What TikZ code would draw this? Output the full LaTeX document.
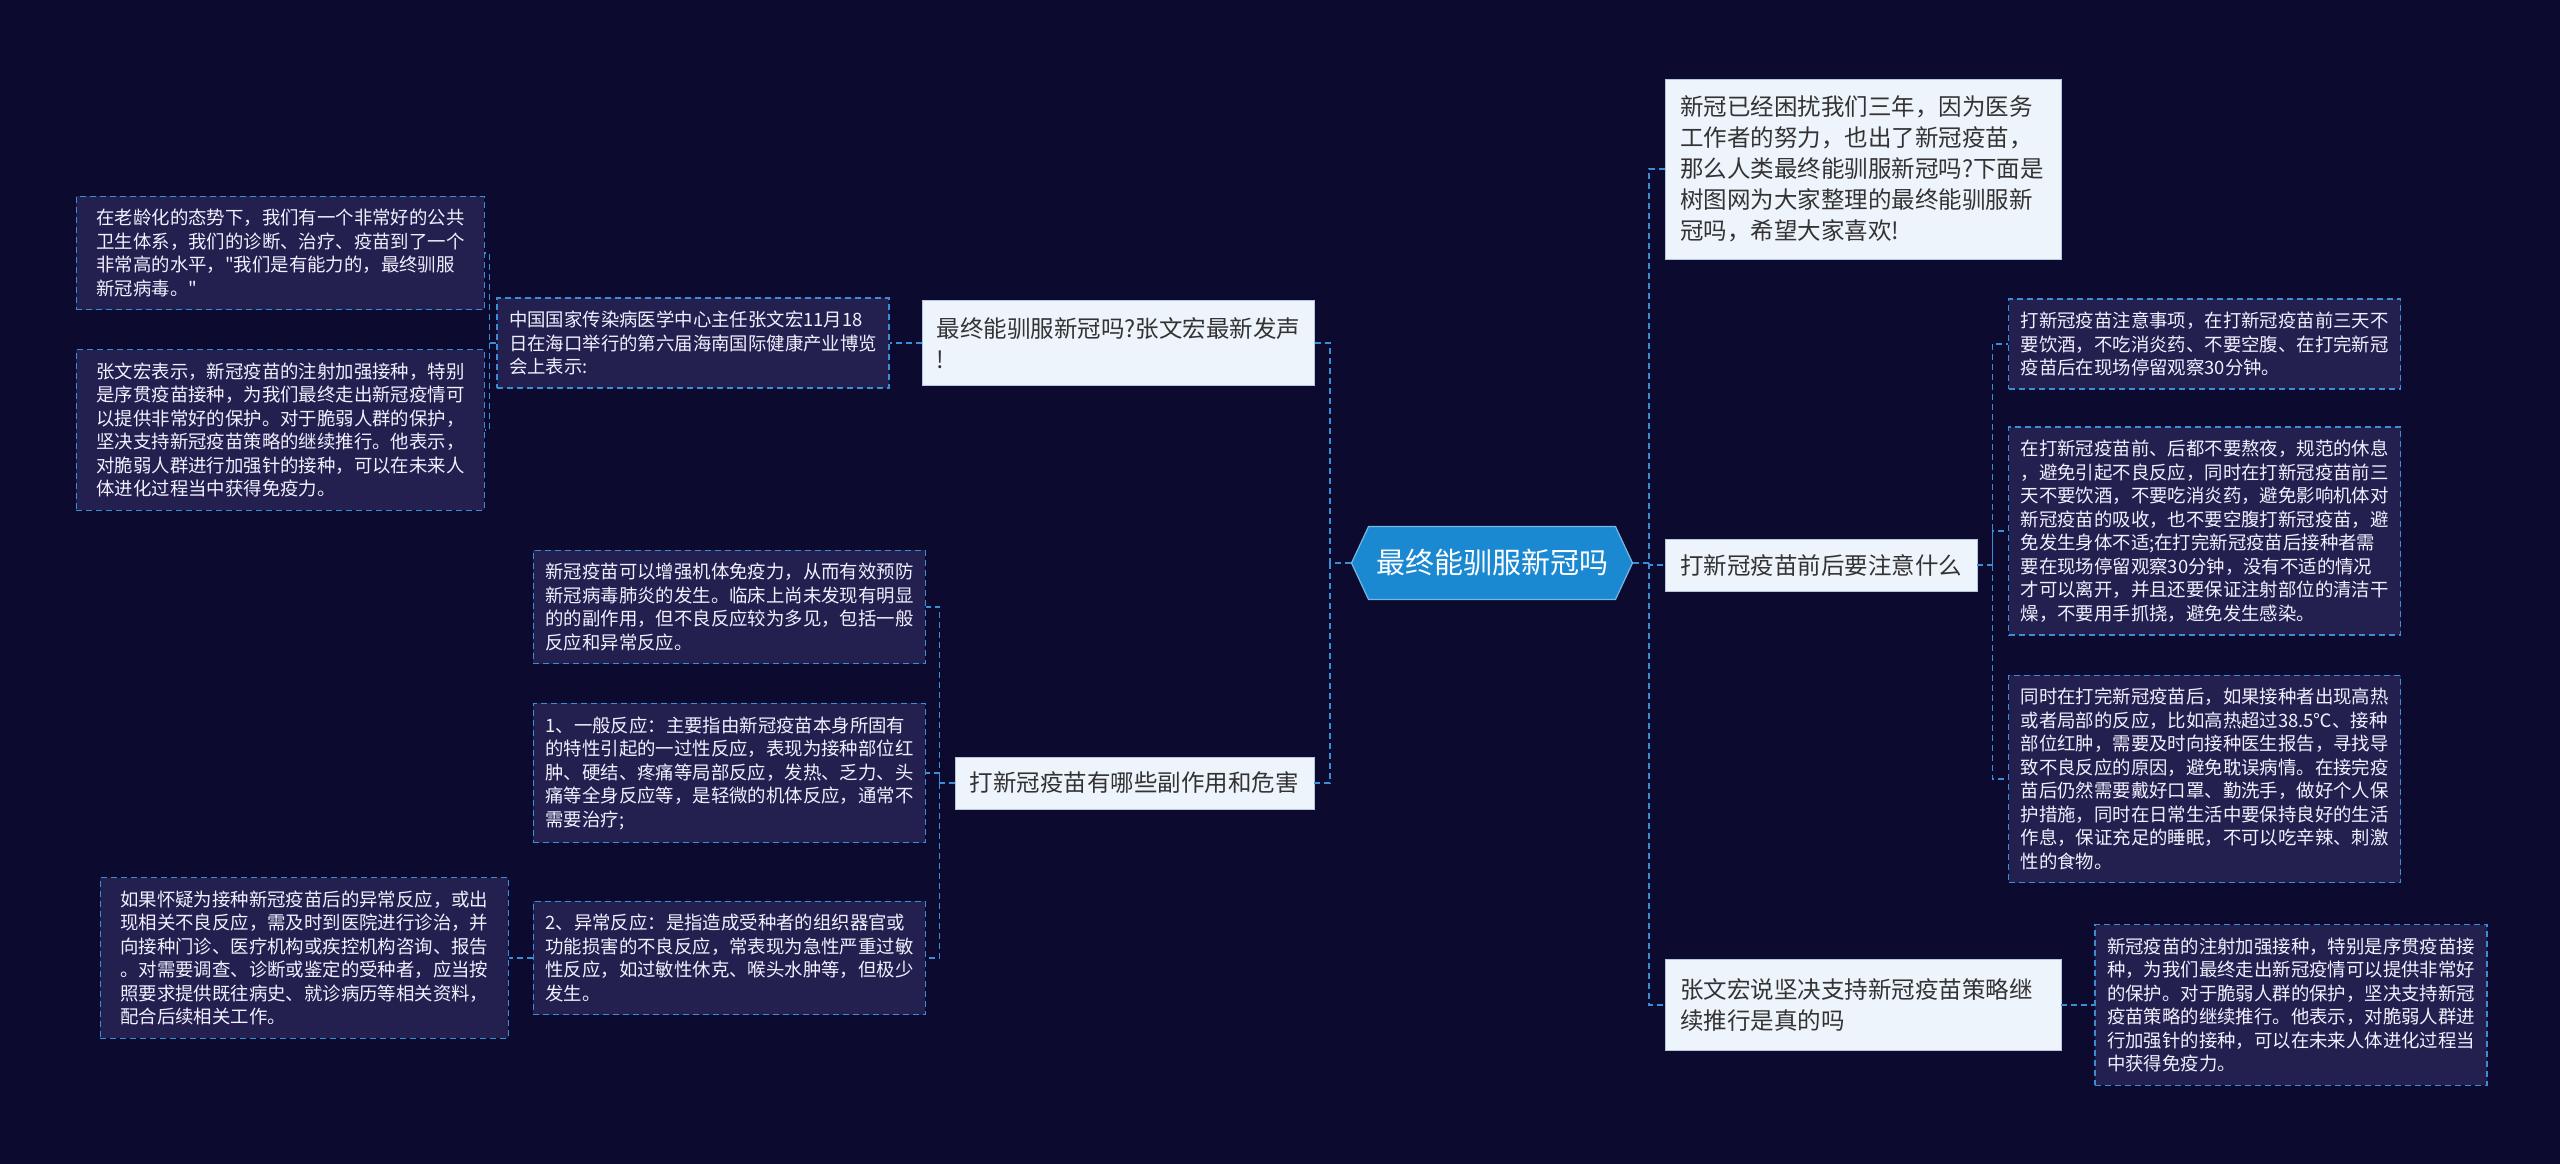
\documentclass[tikz,border=0pt]{standalone}
\usepackage{fontspec}
\setmainfont{Noto Sans CJK SC}[Ligatures=TeXOff]
\usepackage{tikz}
\usetikzlibrary{positioning,shapes.symbols}
\definecolor{canvas}{HTML}{0C0A2E}
\definecolor{leaffill}{HTML}{231F4F}
\definecolor{leafline}{HTML}{3A8ED6}
\definecolor{topicfill}{HTML}{EEF4FC}
\definecolor{topicline}{HTML}{B5C7DC}
\definecolor{rootfill}{HTML}{1B88D2}
\definecolor{inkdark}{HTML}{333333}
\tikzset{
  root/.style={signal,signal to=east and west,signal pointer angle=130,fill=rootfill,
    draw=rootfill!60!white,line width=1.2pt,text=white,minimum width=281pt,
    minimum height=73pt,font=\fontsize{29}{34}\selectfont},
  topic/.style={draw=topicline,fill=topicfill,text=inkdark,align=left,
    inner xsep=15pt,inner ysep=17pt,font=\fontsize{23.5}{31}\selectfont},
  leaf/.style={draw=leafline,dash pattern=on 6pt off 4pt,line width=1.2pt,fill=leaffill,
    text=white!94!blue,align=left,text width=368pt,inner xsep=12pt,inner ysep=13pt,
    font=\fontsize{18.4}{23.5}\selectfont},
  link/.style={draw=leafline,dash pattern=on 6pt off 4pt,line width=1.4pt}
}
\begin{document}
\begin{tikzpicture}[x=1pt,y=-1pt]
  \useasboundingbox (0,0) rectangle (2560,1164);
  \fill[canvas] (0,0) rectangle (2560,1164);

  \node[root] (root) at (1492,563) {最终能驯服新冠吗};

  \node[topic,text width=366pt,anchor=west] (intro) at (1665,169) {新冠已经困扰我们三年，因为医务\\工作者的努力，也出了新冠疫苗，\\那么人类最终能驯服新冠吗?下面是\\树图网为大家整理的最终能驯服新\\冠吗，希望大家喜欢!};
  \node[topic,inner ysep=15pt,anchor=west] (care) at (1665,565) {打新冠疫苗前后要注意什么};
  \node[topic,text width=366pt,inner ysep=19pt,anchor=west] (zwh) at (1665,1005) {张文宏说坚决支持新冠疫苗策略继\\续推行是真的吗};
  \node[leaf,anchor=west] (r1) at (2008,344) {打新冠疫苗注意事项，在打新冠疫苗前三天不\\要饮酒，不吃消炎药、不要空腹、在打完新冠\\疫苗后在现场停留观察30分钟。};
  \node[leaf,anchor=west] (r2) at (2008,531) {在打新冠疫苗前、后都不要熬夜，规范的休息\\，避免引起不良反应，同时在打新冠疫苗前三\\天不要饮酒，不要吃消炎药，避免影响机体对\\新冠疫苗的吸收，也不要空腹打新冠疫苗，避\\免发生身体不适;在打完新冠疫苗后接种者需\\要在现场停留观察30分钟，没有不适的情况\\才可以离开，并且还要保证注射部位的清洁干\\燥，不要用手抓挠，避免发生感染。};
  \node[leaf,anchor=west] (r3) at (2008,779) {同时在打完新冠疫苗后，如果接种者出现高热\\或者局部的反应，比如高热超过38.5℃、接种\\部位红肿，需要及时向接种医生报告，寻找导\\致不良反应的原因，避免耽误病情。在接完疫\\苗后仍然需要戴好口罩、勤洗手，做好个人保\\护措施，同时在日常生活中要保持良好的生活\\作息，保证充足的睡眠，不可以吃辛辣、刺激\\性的食物。};
  \node[leaf,right=33pt of zwh] (r4) {新冠疫苗的注射加强接种，特别是序贯疫苗接\\种，为我们最终走出新冠疫情可以提供非常好\\的保护。对于脆弱人群的保护，坚决支持新冠\\疫苗策略的继续推行。他表示，对脆弱人群进\\行加强针的接种，可以在未来人体进化过程当\\中获得免疫力。};

  \node[topic,text width=362pt,anchor=east] (will) at (1314,343) {最终能驯服新冠吗?张文宏最新发声\\!};
  \node[leaf,left=32pt of will] (cdc) {中国国家传染病医学中心主任张文宏11月18\\日在海口举行的第六届海南国际健康产业博览\\会上表示:};
  \node[leaf,inner xsep=20pt,anchor=east] (l1) at (485,253) {在老龄化的态势下，我们有一个非常好的公共\\卫生体系，我们的诊断、治疗、疫苗到了一个\\非常高的水平，"我们是有能力的，最终驯服\\新冠病毒。"};
  \node[leaf,inner xsep=20pt,anchor=east] (l2) at (485,430) {张文宏表示，新冠疫苗的注射加强接种，特别\\是序贯疫苗接种，为我们最终走出新冠疫情可\\以提供非常好的保护。对于脆弱人群的保护，\\坚决支持新冠疫苗策略的继续推行。他表示，\\对脆弱人群进行加强针的接种，可以在未来人\\体进化过程当中获得免疫力。};
  \node[topic,inner ysep=15pt,anchor=east] (side) at (1314,783) {打新冠疫苗有哪些副作用和危害};
  \node[leaf,anchor=east] (s1) at (926,607) {新冠疫苗可以增强机体免疫力，从而有效预防\\新冠病毒肺炎的发生。临床上尚未发现有明显\\的的副作用，但不良反应较为多见，包括一般\\反应和异常反应。};
  \node[leaf,anchor=east] (s2) at (926,773) {1、一般反应：主要指由新冠疫苗本身所固有\\的特性引起的一过性反应，表现为接种部位红\\肿、硬结、疼痛等局部反应，发热、乏力、头\\痛等全身反应等，是轻微的机体反应，通常不\\需要治疗;};
  \node[leaf,anchor=east] (s3) at (926,958) {2、异常反应：是指造成受种者的组织器官或\\功能损害的不良反应，常表现为急性严重过敏\\性反应，如过敏性休克、喉头水肿等，但极少\\发生。};
  \node[leaf,inner xsep=20pt,left=24pt of s3] (s4) {如果怀疑为接种新冠疫苗后的异常反应，或出\\现相关不良反应，需及时到医院进行诊治，并\\向接种门诊、医疗机构或疾控机构咨询、报告\\。对需要调查、诊断或鉴定的受种者，应当按\\照要求提供既往病史、就诊病历等相关资料，\\配合后续相关工作。};

  \draw[link] (root.west) -- ++(-21,0) coordinate (lt) |- (will.east);
  \draw[link] (lt) |- (side.east);
  \draw[link] (root.east) -- ++(16,0) coordinate (rt) |- (intro.west);
  \draw[link] (rt) |- (care.west);
  \draw[link] (rt) |- (zwh.west);
  \draw[link] (care.east) -- ++(15,0) coordinate (ct) |- (r1.west);
  \draw[link] (ct) |- (r2.west);
  \draw[link] (ct) |- (r3.west);
  \draw[link] (zwh.east) -- (r4.west);
  \draw[link] (will.west) -- (cdc.east);
  \draw[link] (cdc.west) -- ++(-7,0) coordinate (dt) |- (l1.east);
  \draw[link] (dt) |- (l2.east);
  \draw[link] (side.west) -- ++(-15,0) coordinate (st) |- (s1.east);
  \draw[link] (st) |- (s2.east);
  \draw[link] (st) |- (s3.east);
  \draw[link] (s3.west) -- (s4.east);
\end{tikzpicture}
\end{document}
